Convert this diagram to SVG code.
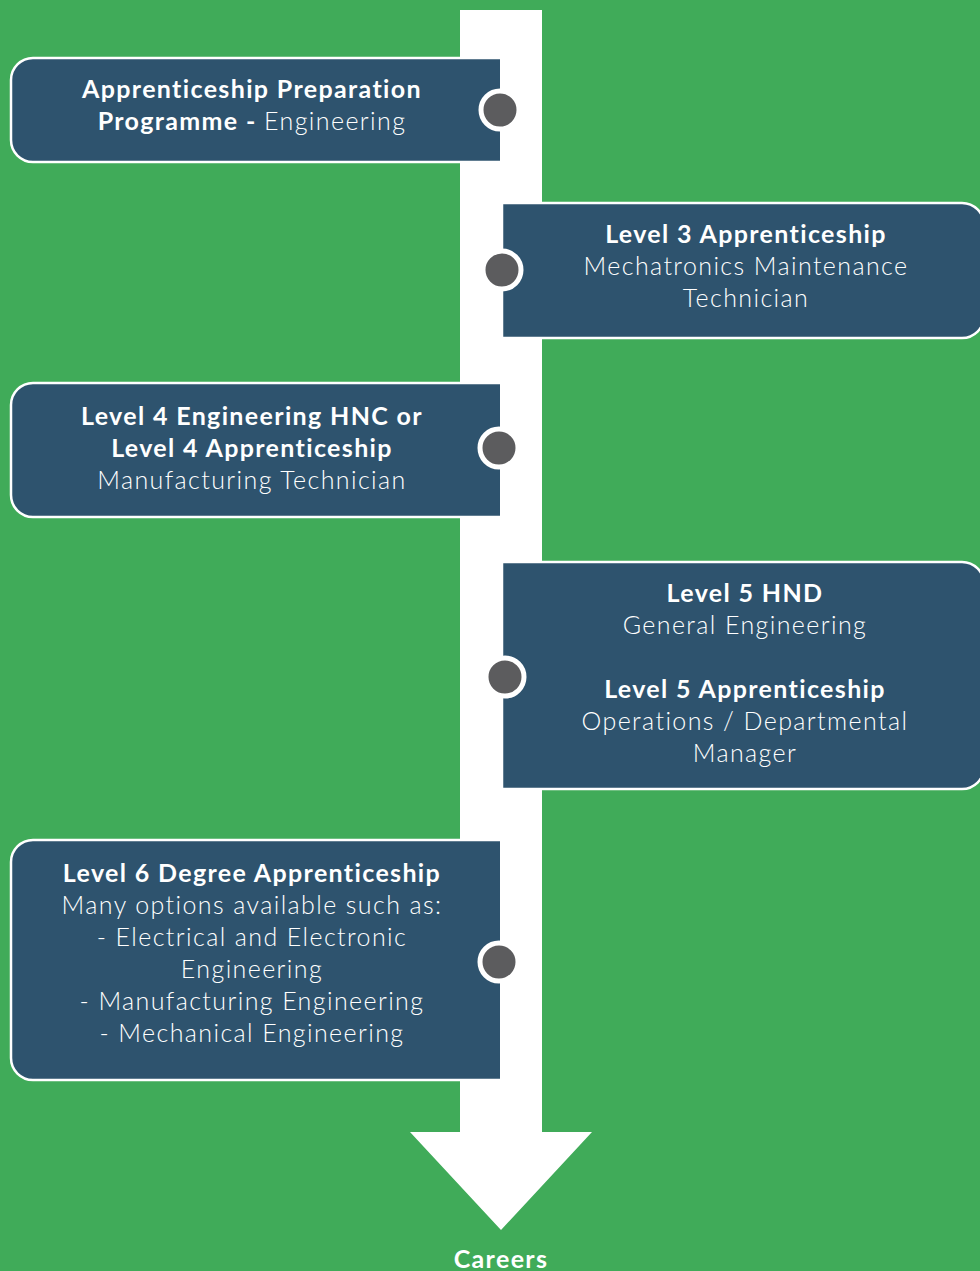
<svg xmlns="http://www.w3.org/2000/svg" width="980" height="1271" viewBox="0 0 980 1271">
<defs>
<style>
.bg{fill:#40ab59}
.box{fill:#2e536e;stroke:#ffffff;stroke-width:2.5}
.dot{fill:#5c5c5e;stroke:#ffffff;stroke-width:5}
text{font-family:Lato,"Noto Sans","Liberation Sans",sans-serif;font-size:25px;fill:#ffffff;text-anchor:middle;letter-spacing:1.4px;font-weight:300}
.b{font-weight:bold;letter-spacing:1.35px}
.r{font-weight:300}
</style>
</defs>
<rect class="bg" x="0" y="0" width="980" height="1271"/>
<g id="connectors">
<path d="M460,10 H542 V1132 H592 L501,1230 L410,1132 H460 Z" fill="#ffffff"/>
</g>
<g id="node1">
<path class="box" d="M500,58 H33 A22,22 0 0 0 11,80 V140 A22,22 0 0 0 33,162 H500"/>
<circle class="dot" cx="500" cy="110" r="19"/>
<text x="252" y="98" class="b">Apprenticeship Preparation</text>
<text x="252" y="130"><tspan class="b">Programme - </tspan><tspan class="r">Engineering</tspan></text>
</g>
<g id="node2">
<path class="box" d="M502,203 H962 A22,22 0 0 1 984,225 V316 A22,22 0 0 1 962,338 H502 Z"/>
<circle class="dot" cx="502" cy="270" r="19"/>
<text x="746" y="243" class="b">Level 3 Apprenticeship</text>
<text x="746" y="275">Mechatronics Maintenance</text>
<text x="746" y="307">Technician</text>
</g>
<g id="node3">
<path class="box" d="M500,383 H33 A22,22 0 0 0 11,405 V495 A22,22 0 0 0 33,517 H500"/>
<circle class="dot" cx="499" cy="448" r="19"/>
<text x="252" y="425" class="b">Level 4 Engineering HNC or</text>
<text x="252" y="457" class="b">Level 4 Apprenticeship</text>
<text x="252" y="489">Manufacturing Technician</text>
</g>
<g id="node4">
<path class="box" d="M502,562 H962 A22,22 0 0 1 984,584 V767 A22,22 0 0 1 962,789 H502 Z"/>
<circle class="dot" cx="505" cy="677" r="19"/>
<text x="745" y="602" class="b">Level 5 HND</text>
<text x="745" y="634">General Engineering</text>
<text x="745" y="698" class="b">Level 5 Apprenticeship</text>
<text x="745" y="730">Operations / Departmental</text>
<text x="745" y="762">Manager</text>
</g>
<g id="node5">
<path class="box" d="M500,840 H33 A22,22 0 0 0 11,862 V1058 A22,22 0 0 0 33,1080 H500"/>
<circle class="dot" cx="499" cy="962" r="19"/>
<text x="252" y="882" class="b">Level 6 Degree Apprenticeship</text>
<text x="252" y="914">Many options available such as:</text>
<text x="252" y="946">- Electrical and Electronic</text>
<text x="252" y="978">Engineering</text>
<text x="252" y="1010">- Manufacturing Engineering</text>
<text x="252" y="1042">- Mechanical Engineering</text>
</g>
<g id="careers">
<text x="501" y="1268" class="b">Careers</text>
</g>
</svg>
